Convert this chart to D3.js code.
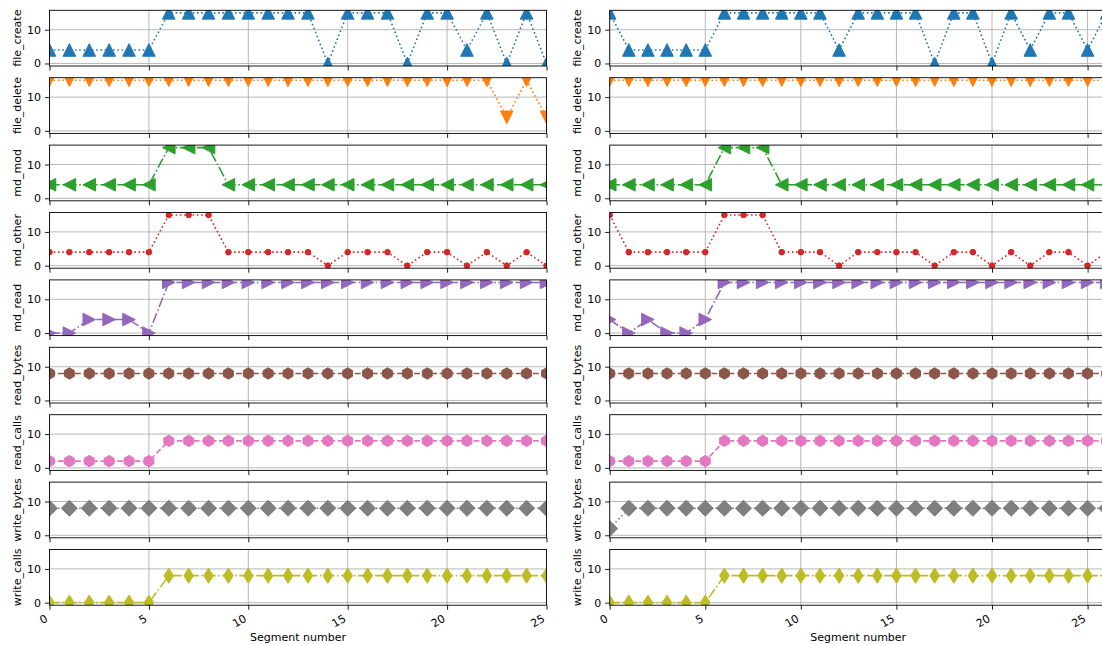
<!DOCTYPE html>
<html>
<head>
<meta charset="utf-8">
<script src="https://cdn.jsdelivr.net/npm/d3@7"></script>
<style>
  body { margin: 0; background: #fff; }
  svg { display: block; background: #fff; }
  text { font-family: "DejaVu Sans", sans-serif; fill: #000; }
</style>
</head>
<body>
<svg id="chart" width="1102" height="645"></svg>
<script>
// ---- metrics per segment (value per segment number, starting at 0) ----
const metricNames = ["file_create", "file_delete", "md_mod", "md_other", "md_read",
                     "read_bytes", "read_calls", "write_bytes", "write_calls"];
const xTickValues = [0, 5, 10, 15, 20, 25];
const yTickValues = [0, 10];
const xAxisTitle = "Segment number";

// first run (segments 0..25)
const leftFileCreate = [4,4,4,4,4,4,15,15,15,15,15,15,15,15,0,15,15,15,0,15,15,4,15,0,15,0];
const leftFileDelete = [15,15,15,15,15,15,15,15,15,15,15,15,15,15,15,15,15,15,15,15,15,15,15,4,15,4];
const leftMdMod      = [4,4,4,4,4,4,15,15,15,4,4,4,4,4,4,4,4,4,4,4,4,4,4,4,4,4];
const leftMdOther    = [4,4,4,4,4,4,15,15,15,4,4,4,4,4,0,4,4,4,0,4,4,0,4,0,4,0];
const leftMdRead     = [0,0,4,4,4,0,15,15,15,15,15,15,15,15,15,15,15,15,15,15,15,15,15,15,15,15];
const leftReadBytes  = [8,8,8,8,8,8,8,8,8,8,8,8,8,8,8,8,8,8,8,8,8,8,8,8,8,8];
const leftReadCalls  = [2,2,2,2,2,2,8,8,8,8,8,8,8,8,8,8,8,8,8,8,8,8,8,8,8,8];
const leftWriteBytes = [8,8,8,8,8,8,8,8,8,8,8,8,8,8,8,8,8,8,8,8,8,8,8,8,8,8];
const leftWriteCalls = [0,0,0,0,0,0,8,8,8,8,8,8,8,8,8,8,8,8,8,8,8,8,8,8,8,8];

// second run (segments 0..26)
const rightFileCreate = [15,4,4,4,4,4,15,15,15,15,15,15,4,15,15,15,15,0,15,15,0,15,4,15,15,4,15];
const rightFileDelete = [15,15,15,15,15,15,15,15,15,15,15,15,15,15,15,15,15,15,15,15,15,15,15,15,15,15,15];
const rightMdMod      = [4,4,4,4,4,4,15,15,15,4,4,4,4,4,4,4,4,4,4,4,4,4,4,4,4,4,4];
const rightMdOther    = [15,4,4,4,4,4,15,15,15,4,4,4,0,4,4,4,4,0,4,4,0,4,0,4,4,0,4];
const rightMdRead     = [4,0,4,0,0,4,15,15,15,15,15,15,15,15,15,15,15,15,15,15,15,15,15,15,15,15,15];
const rightReadBytes  = [8,8,8,8,8,8,8,8,8,8,8,8,8,8,8,8,8,8,8,8,8,8,8,8,8,8,8];
const rightReadCalls  = [2,2,2,2,2,2,8,8,8,8,8,8,8,8,8,8,8,8,8,8,8,8,8,8,8,8,8];
const rightWriteBytes = [2,8,8,8,8,8,8,8,8,8,8,8,8,8,8,8,8,8,8,8,8,8,8,8,8,8,8];
const rightWriteCalls = [0,0,0,0,0,0,8,8,8,8,8,8,8,8,8,8,8,8,8,8,8,8,8,8,8,8,8];

const leftRun  = [leftFileCreate, leftFileDelete, leftMdMod, leftMdOther, leftMdRead,
                  leftReadBytes, leftReadCalls, leftWriteBytes, leftWriteCalls];
const rightRun = [rightFileCreate, rightFileDelete, rightMdMod, rightMdOther, rightMdRead,
                  rightReadBytes, rightReadCalls, rightWriteBytes, rightWriteCalls];

// ---- styling ----
const colors  = ["#1f77b4","#ff7f0e","#2ca02c","#d62728","#9467bd","#8c564b","#e377c2","#7f7f7f","#bcbd22"];
const markers = ["^","v","<","o",">","h","h","D","d"];
const dashes  = [":",":","-.",":","-.","--","--",":","-."];
const fontPx = 11;
const lineW = 1.6;
const dashArray = {
  ":":  [1.0, 1.65].map(v => v * lineW).join(","),
  "--": [3.7, 1.6].map(v => v * lineW).join(","),
  "-.": [6.4, 1.6, 1.0, 1.6].map(v => v * lineW).join(",")
};

function markerPath(kind) {
  const p = d3.path();
  const poly = pts => { p.moveTo(pts[0][0], pts[0][1]); pts.slice(1).forEach(q => p.lineTo(q[0], q[1])); p.closePath(); };
  const t = 6.3;            // triangle half-size
  switch (kind) {
    case "^": poly([[0,-t],[t,t],[-t,t]]); break;
    case "v": poly([[0,t],[t,-t],[-t,-t]]); break;
    case "<": poly([[-t,0],[t,-t],[t,t]]); break;
    case ">": poly([[t,0],[-t,-t],[-t,t]]); break;
    case "o": p.arc(0, 0, 2.8, 0, 2 * Math.PI); break;
    case "h": {
      const r = 5.7;
      poly(d3.range(6).map(k => [r * Math.cos(Math.PI / 2 + k * Math.PI / 3), -r * Math.sin(Math.PI / 2 + k * Math.PI / 3)]));
      break;
    }
    case "D": { const a = 8.0; poly([[0,-a],[a,0],[0,a],[-a,0]]); break; }
    case "d": poly([[0,-7.6],[4.8,0],[0,7.6],[-4.8,0]]); break;
  }
  return p.toString();
}

// ---- layout ----
const svg = d3.select("#chart");
const plotW = 497, plotH = 55.7, top0 = 10.3, pitch = 67.4;
const yDomain = [-0.75, 15.75];
const panels = [
  { x0: 49.5,  xMax: 25, run: leftRun,  id: "a" },
  { x0: 609.7, xMax: 26, run: rightRun, id: "b" }
];

panels.forEach(panel => {
  const x = d3.scaleLinear().domain([0, panel.xMax]).range([panel.x0, panel.x0 + plotW]);

  metricNames.forEach((name, i) => {
    const top = top0 + i * pitch, bottom = top + plotH;
    const y = d3.scaleLinear().domain(yDomain).range([bottom, top]);
    const g = svg.append("g");
    const clipId = `clip-${panel.id}-${i}`;
    g.append("clipPath").attr("id", clipId)
      .append("rect").attr("x", panel.x0).attr("y", top).attr("width", plotW).attr("height", plotH);

    // grid
    const grid = g.append("g").attr("clip-path", `url(#${clipId})`);
    grid.selectAll("line.gx").data(xTickValues).join("line")
      .attr("x1", d => x(d)).attr("x2", d => x(d)).attr("y1", top).attr("y2", bottom)
      .attr("stroke", "#b0b0b0").attr("stroke-width", 0.9);
    grid.selectAll("line.gy").data(yTickValues).join("line")
      .attr("x1", panel.x0).attr("x2", panel.x0 + plotW).attr("y1", d => y(d)).attr("y2", d => y(d))
      .attr("stroke", "#b0b0b0").attr("stroke-width", 0.9);

    // series
    const values = panel.run[i];
    const data = g.append("g").attr("clip-path", `url(#${clipId})`);
    const line = d3.line().x((d, k) => x(k)).y(d => y(d));
    data.append("path").datum(values)
      .attr("d", line).attr("fill", "none")
      .attr("stroke", colors[i]).attr("stroke-width", lineW)
      .attr("stroke-dasharray", dashArray[dashes[i]]);
    const mPath = markerPath(markers[i]);
    data.selectAll("path.mk").data(values).join("path")
      .attr("class", "mk")
      .attr("d", mPath)
      .attr("transform", (d, k) => `translate(${x(k)},${y(d)})`)
      .attr("fill", colors[i]).attr("stroke", colors[i]).attr("stroke-width", 1)
      .attr("stroke-linejoin", "miter");

    // axes
    const yAxis = d3.axisLeft(y).tickValues(yTickValues).tickSize(4.5).tickPadding(4);
    const ya = g.append("g").attr("transform", `translate(${panel.x0},0)`).call(yAxis);
    ya.select(".domain").remove();
    ya.selectAll(".tick line").attr("stroke", "#000").attr("stroke-width", 0.9);
    ya.selectAll(".tick text").attr("font-size", fontPx).attr("font-family", "DejaVu Sans").attr("fill", "#000");

    const last = i === metricNames.length - 1;
    const xAxis = d3.axisBottom(x).tickValues(xTickValues).tickSize(4.5)
      .tickFormat(last ? d3.format("d") : () => "");
    const xa = g.append("g").attr("transform", `translate(0,${bottom})`).call(xAxis);
    xa.select(".domain").remove();
    xa.selectAll(".tick line").attr("stroke", "#000").attr("stroke-width", 0.9);
    if (last) {
      xa.selectAll(".tick text")
        .attr("font-size", fontPx).attr("font-family", "DejaVu Sans").attr("fill", "#000")
        .attr("text-anchor", "end").attr("dy", null).attr("y", null)
        .attr("transform", "translate(-1.5,15.5) rotate(-30)");
      g.append("text")
        .attr("x", panel.x0 + plotW / 2).attr("y", 641)
        .attr("text-anchor", "middle").attr("font-size", fontPx)
        .text(xAxisTitle);
    }

    // frame
    g.append("rect").attr("x", panel.x0).attr("y", top).attr("width", plotW).attr("height", plotH)
      .attr("fill", "none").attr("stroke", "#000").attr("stroke-width", 0.9);

    // metric label
    g.append("text")
      .attr("transform", `translate(${panel.x0 - 29},${(top + bottom) / 2}) rotate(-90)`)
      .attr("text-anchor", "middle").attr("font-size", fontPx)
      .text(name);
  });
});
</script>
</body>
</html>
